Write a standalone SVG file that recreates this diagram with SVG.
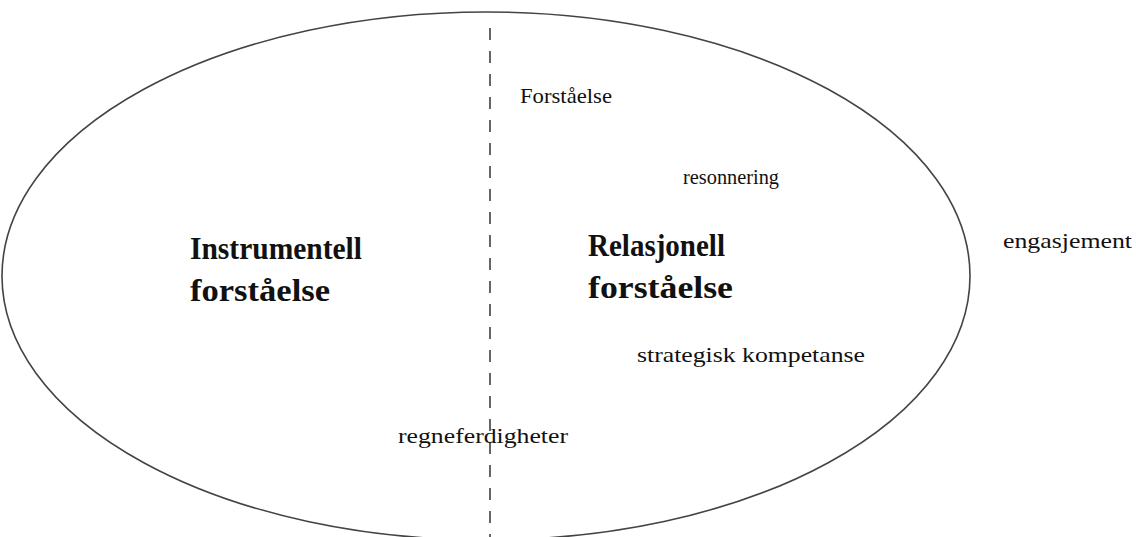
<svg xmlns="http://www.w3.org/2000/svg" width="1136" height="537" viewBox="0 0 1136 537">
<style>
.t{font-family:"Liberation Serif",serif;font-size:21px;fill:#111}
.b{font-family:"Liberation Serif",serif;font-size:31px;font-weight:bold;fill:#111}
.ell{fill:none;stroke:#444;stroke-width:1.6}
.dash{stroke:#333;stroke-width:1.5;stroke-dasharray:12 11}
</style>
<rect width="1136" height="537" fill="#fff"/>
<g id="ellipse"><ellipse class="ell" cx="486" cy="276" rx="484" ry="264"/></g>
<g id="divider"><line class="dash" x1="490" y1="28" x2="490" y2="537"/></g>
<g id="instrumentell"><text class="b" x="190" y="259" textLength="172" lengthAdjust="spacingAndGlyphs">Instrumentell</text><text class="b" x="190" y="301" textLength="140" lengthAdjust="spacingAndGlyphs">forståelse</text></g>
<g id="relasjonell"><text class="b" x="588" y="256" textLength="137" lengthAdjust="spacingAndGlyphs">Relasjonell</text><text class="b" x="588" y="298" textLength="145" lengthAdjust="spacingAndGlyphs">forståelse</text></g>
<g id="forstaelse"><text class="t" x="520" y="103" textLength="92" lengthAdjust="spacingAndGlyphs">Forståelse</text></g>
<g id="resonnering"><text class="t" x="683" y="184" textLength="96" lengthAdjust="spacingAndGlyphs">resonnering</text></g>
<g id="engasjement"><text class="t" x="1003" y="248" textLength="129" lengthAdjust="spacingAndGlyphs">engasjement</text></g>
<g id="strategisk"><text class="t" x="637" y="362" textLength="228" lengthAdjust="spacingAndGlyphs">strategisk kompetanse</text></g>
<g id="regneferdigheter"><text class="t" x="398" y="443" textLength="170" lengthAdjust="spacingAndGlyphs">regneferdigheter</text></g>
</svg>
